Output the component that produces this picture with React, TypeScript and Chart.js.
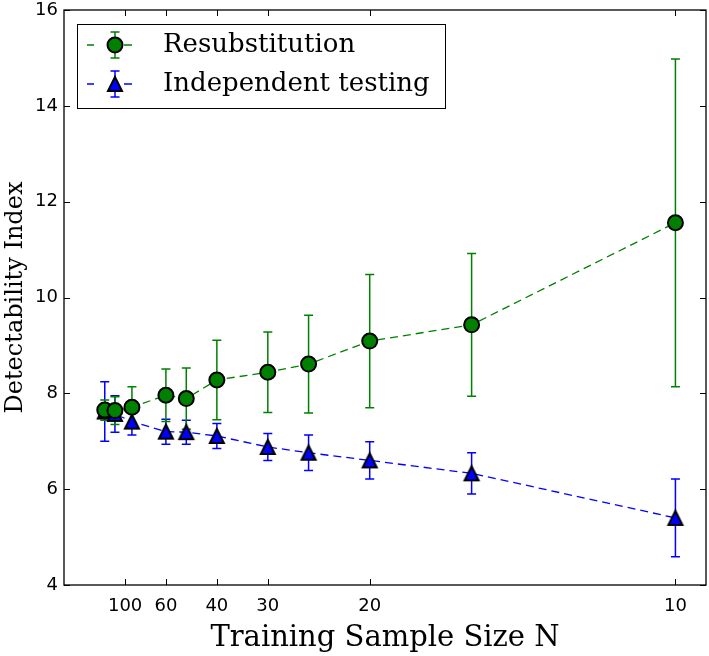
import React, { useEffect, useRef } from "react";
import { Chart, registerables } from "chart.js";

Chart.register(...registerables);

// Data
const sampleSizes = [150, 120, 90, 60, 50, 40, 30, 25, 20, 15, 10];
const resubMean = [7.65, 7.64, 7.71, 7.96, 7.89, 8.28, 8.44, 8.61, 9.09, 9.43, 11.56];
const resubErr = [0.21, 0.29, 0.43, 0.55, 0.64, 0.83, 0.84, 1.02, 1.39, 1.49, 3.42];
const indepMean = [7.62, 7.57, 7.41, 7.2, 7.19, 7.11, 6.88, 6.76, 6.6, 6.33, 5.4];
const indepErr = [0.62, 0.38, 0.28, 0.26, 0.25, 0.26, 0.28, 0.37, 0.39, 0.43, 0.81];
const xTickSizes = [100, 60, 40, 30, 20, 10];
const seriesNames = ["Resubstitution", "Independent testing"];
const xTitle = "Training Sample Size N";
const yTitle = "Detectability Index";

const GREEN = "#008000";
const BLUE = "#0000ff";

function makeTriangle(fill: string, half: number, lw: number) {
  const size = 24;
  const c = document.createElement("canvas");
  c.width = size;
  c.height = size;
  const g = c.getContext("2d")!;
  const cx = size / 2;
  const cy = size / 2;
  g.beginPath();
  g.moveTo(cx, cy - half);
  g.lineTo(cx - half, cy + half);
  g.lineTo(cx + half, cy + half);
  g.closePath();
  g.fillStyle = fill;
  g.fill();
  g.lineWidth = lw;
  g.strokeStyle = "#000";
  g.lineJoin = "miter";
  g.stroke();
  return c;
}

function drawErrorBar(ctx: CanvasRenderingContext2D, x: number, y1: number, y2: number, color: string) {
  const cap = 4.5;
  ctx.save();
  ctx.strokeStyle = color;
  ctx.lineWidth = 1.5;
  ctx.setLineDash([]);
  ctx.beginPath();
  ctx.moveTo(x, y1);
  ctx.lineTo(x, y2);
  ctx.moveTo(x - cap, y1);
  ctx.lineTo(x + cap, y1);
  ctx.moveTo(x - cap, y2);
  ctx.lineTo(x + cap, y2);
  ctx.stroke();
  ctx.restore();
}

function zeroPadding(scale: any) {
  scale.paddingTop = 0;
  scale.paddingBottom = 0;
  scale.paddingLeft = 0;
  scale.paddingRight = 0;
}

export default function App() {
  const ref = useRef<HTMLCanvasElement>(null);

  useEffect(() => {
    const canvas = ref.current!;
    const tri = makeTriangle(BLUE, 7, 2);

    const errPlugin = {
      id: "errorbars",
      beforeDatasetsDraw(chart: any) {
        const ctx = chart.ctx as CanvasRenderingContext2D;
        const xs = chart.scales.x;
        const ys = chart.scales.y;
        const sets = [
          { m: indepMean, e: indepErr, c: BLUE },
          { m: resubMean, e: resubErr, c: GREEN },
        ];
        sets.forEach((s) => {
          sampleSizes.forEach((n, i) => {
            const px = xs.getPixelForValue(1 / n);
            drawErrorBar(ctx, px, ys.getPixelForValue(s.m[i] + s.e[i]), ys.getPixelForValue(s.m[i] - s.e[i]), s.c);
          });
        });
      },
      afterDraw(chart: any) {
        const ctx = chart.ctx as CanvasRenderingContext2D;
        const a = chart.chartArea;
        const xs = chart.scales.x;
        const ys = chart.scales.y;
        const tl = 6;
        ctx.save();
        ctx.strokeStyle = "#000";
        ctx.lineWidth = 1;
        ctx.setLineDash([]);
        ctx.beginPath();
        xs.ticks.forEach((t: any) => {
          const px = Math.round(xs.getPixelForValue(t.value)) + 0.5;
          ctx.moveTo(px, a.bottom);
          ctx.lineTo(px, a.bottom - tl);
          ctx.moveTo(px, a.top);
          ctx.lineTo(px, a.top + tl);
        });
        ys.ticks.forEach((t: any) => {
          const py = Math.round(ys.getPixelForValue(t.value)) + 0.5;
          ctx.moveTo(a.left, py);
          ctx.lineTo(a.left + tl, py);
          ctx.moveTo(a.right, py);
          ctx.lineTo(a.right - tl, py);
        });
        ctx.stroke();
        ctx.lineWidth = 1.3;
        ctx.strokeRect(a.left, a.top, a.right - a.left, a.bottom - a.top);

        // Legend
        const bx = 77, by = 24, bw = 368, bh = 84;
        ctx.fillStyle = "#fff";
        ctx.fillRect(bx, by, bw, bh);
        ctx.lineWidth = 1;
        ctx.strokeStyle = "#000";
        ctx.strokeRect(bx + 0.5, by + 0.5, bw, bh);
        const rows = [
          { y: 45, c: GREEN, name: seriesNames[0], tri: false },
          { y: 84, c: BLUE, name: seriesNames[1], tri: true },
        ];
        rows.forEach((r) => {
          ctx.strokeStyle = r.c;
          ctx.lineWidth = 1.3;
          ctx.beginPath();
          ctx.moveTo(87, r.y);
          ctx.lineTo(94, r.y);
          ctx.moveTo(124, r.y);
          ctx.lineTo(132, r.y);
          ctx.stroke();
          drawErrorBar(ctx, 115, r.y - 13, r.y + 13, r.c);
          if (r.tri) {
            ctx.drawImage(tri, 115 - tri.width / 2, r.y - tri.height / 2);
          } else {
            ctx.beginPath();
            ctx.arc(115, r.y, 7.5, 0, Math.PI * 2);
            ctx.fillStyle = r.c;
            ctx.fill();
            ctx.lineWidth = 2;
            ctx.strokeStyle = "#000";
            ctx.stroke();
          }
          ctx.fillStyle = "#000";
          ctx.font = '26px "DejaVu Serif"';
          ctx.textBaseline = "middle";
          ctx.textAlign = "left";
          ctx.fillText(r.name, 163, r.y);
        });
        ctx.restore();
      },
    };

    const chart = new Chart(canvas, {
      type: "line",
      data: {
        datasets: [
          {
            label: seriesNames[0],
            data: sampleSizes.map((n, i) => ({ x: 1 / n, y: resubMean[i] })),
            borderColor: GREEN,
            backgroundColor: GREEN,
            borderWidth: 1.3,
            borderDash: [8, 5],
            pointStyle: "circle",
            pointRadius: 7.5,
            pointBorderWidth: 2,
            pointBorderColor: "#000",
            pointBackgroundColor: GREEN,
            tension: 0,
          },
          {
            label: seriesNames[1],
            data: sampleSizes.map((n, i) => ({ x: 1 / n, y: indepMean[i] })),
            borderColor: BLUE,
            backgroundColor: BLUE,
            borderWidth: 1.3,
            borderDash: [8, 5],
            pointStyle: tri as any,
            pointRadius: 8,
            pointBorderWidth: 0,
            tension: 0,
          },
        ],
      },
      options: {
        responsive: false,
        animation: false,
        events: [],
        layout: { autoPadding: false, padding: { left: 0, top: 10, right: 3, bottom: 0 } },
        plugins: { legend: { display: false }, tooltip: { enabled: false } },
        scales: {
          x: {
            type: "linear",
            min: 0,
            max: 0.105,
            grid: { display: false, drawTicks: false },
            border: { display: false },
            afterBuildTicks: (scale: any) => {
              scale.ticks = xTickSizes.map((n) => ({ value: 1 / n }));
            },
            afterFit: (scale: any) => {
              scale.height = 71;
              zeroPadding(scale);
            },
            ticks: {
              autoSkip: false,
              maxRotation: 0,
              padding: 12,
              color: "#000",
              font: { family: "DejaVu Sans", size: 18, lineHeight: 1 },
              callback: (_v: any, i: number) => String(xTickSizes[i]),
            },
            title: {
              display: true,
              text: xTitle,
              color: "#000",
              font: { family: "DejaVu Serif", size: 29, lineHeight: 1 },
              padding: { top: 0, bottom: 3 },
            },
          },
          y: {
            type: "linear",
            min: 4,
            max: 16,
            grid: { display: false, drawTicks: false },
            border: { display: false },
            afterFit: (scale: any) => {
              scale.width = 64;
              zeroPadding(scale);
            },
            ticks: {
              stepSize: 2,
              padding: 6,
              color: "#000",
              font: { family: "DejaVu Sans", size: 18, lineHeight: 1 },
            },
            title: {
              display: true,
              text: yTitle,
              color: "#000",
              font: { family: "DejaVu Serif", size: 24, lineHeight: 1 },
              padding: { top: 4, bottom: 0 },
            },
          },
        },
      },
      plugins: [errPlugin],
    });
    return () => chart.destroy();
  }, []);

  return (
    <div style={{ position: "absolute", left: 0, top: 0, width: 709, height: 656, background: "#fff" }}>
      <canvas ref={ref} width={709} height={656} style={{ display: "block" }} />
    </div>
  );
}
